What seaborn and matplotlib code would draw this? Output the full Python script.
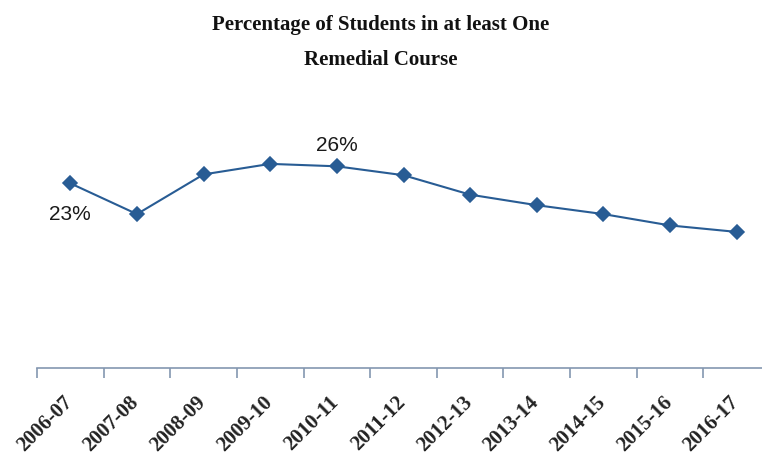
import numpy as np
import pandas as pd
import matplotlib
matplotlib.use('Agg')
import matplotlib.pyplot as plt
import matplotlib.transforms as mtransforms
from matplotlib.ticker import FixedLocator
import seaborn as sns

years = ['2006-07', '2007-08', '2008-09', '2009-10', '2010-11', '2011-12',
         '2012-13', '2013-14', '2014-15', '2015-16', '2016-17']
pct = [23.4, 19.6, 24.5, 25.8, 25.5, 24.4, 22.0, 20.7, 19.6, 18.2, 17.4]
labelled = {'2006-07': 'below', '2010-11': 'above'}

df = pd.DataFrame({'year': years, 'pct': pct})

sns.set_style('white')
line_col = '#285C94'
axis_col = '#8497B0'

fig = plt.figure(figsize=(7.62, 4.64), dpi=100)
ax = fig.add_axes([37 / 762, 1 - 369 / 464, 733 / 762, 243 / 464])

sns.pointplot(data=df, x='year', y='pct', color=line_col, markers='D',
              errorbar=None, linewidth=1.5, markersize=7.5, ax=ax)

ax.set_xlim(-0.5, len(years) - 0.5)
ax.set_ylim(0.6, 30.6)

# data labels
for i, (yr, v) in enumerate(zip(years, pct)):
    if yr in labelled:
        dy = -3.7 if labelled[yr] == 'below' else 2.7
        ax.text(i, v + dy, f'{v:.0f}%', ha='center', va='center',
                fontsize=15, family='Liberation Sans', color='#1a1a1a')

# axis styling
for side in ['left', 'top', 'right']:
    ax.spines[side].set_visible(False)
ax.spines['bottom'].set_color(axis_col)
ax.spines['bottom'].set_linewidth(1.2)
ax.set_yticks([])
ax.set_xlabel('')
ax.set_ylabel('')
ax.set_xticks(range(len(years)))
ax.xaxis.set_minor_locator(FixedLocator(np.arange(-0.5, len(years), 1.0)))
ax.tick_params(axis='x', which='major', bottom=False, length=0, pad=17)
ax.tick_params(axis='x', which='minor', bottom=True, length=7, width=1.2,
               color=axis_col, direction='out')
ax.set_xticklabels(years, rotation=45, ha='right', rotation_mode='anchor',
                   family='Liberation Serif', fontweight='bold', fontsize=15,
                   color='#222222')
shift = mtransforms.ScaledTranslation(-8 / 100, 0, fig.dpi_scale_trans)
for lbl in ax.get_xticklabels():
    lbl.set_transform(lbl.get_transform() + shift)

fig.text(0.5, 0.968, 'Percentage of Students in at least One\nRemedial Course',
         ha='center', va='top', family='Liberation Serif', fontweight='bold',
         fontsize=15, linespacing=2.0, color='#111111')

fig.savefig('out.png', dpi=100)
